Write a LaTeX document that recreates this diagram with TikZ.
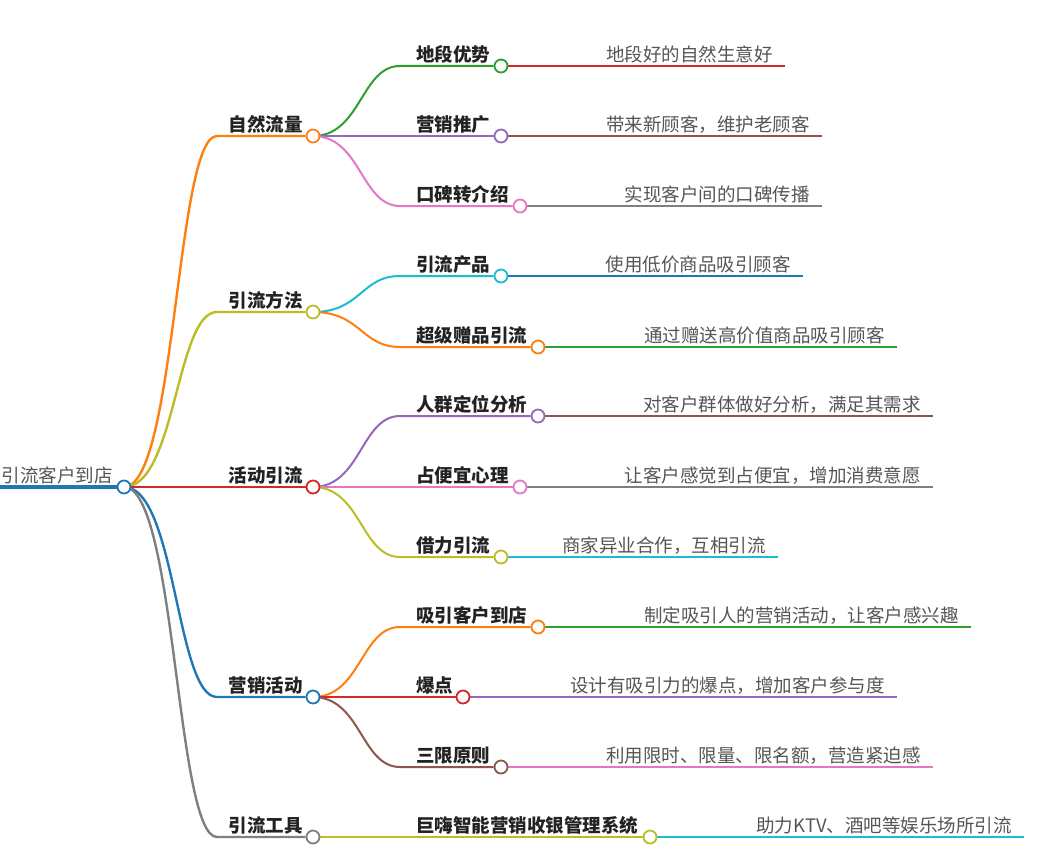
\documentclass[tikz,border=0pt]{standalone}
\usepackage{fontspec}
\newfontfamily\cjk{Noto Sans CJK SC}
\usetikzlibrary{backgrounds,positioning}
\definecolor{MapBlue}{HTML}{1F77B4}
\definecolor{MapOrange}{HTML}{FF7F0E}
\definecolor{MapGreen}{HTML}{2CA02C}
\definecolor{MapRed}{HTML}{D62728}
\definecolor{MapPurple}{HTML}{9467BD}
\definecolor{MapBrown}{HTML}{8C564B}
\definecolor{MapPink}{HTML}{E377C2}
\definecolor{MapGray}{HTML}{7F7F7F}
\definecolor{MapOlive}{HTML}{BCBD22}
\definecolor{MapCyan}{HTML}{17BECF}
\definecolor{LabelInk}{HTML}{222222}
\definecolor{LeafInk}{HTML}{555555}

\begin{document}
\begin{tikzpicture}[
  x=1pt,y=-1pt,
  dot/.style={circle,draw,fill=white,line width=1.8pt,minimum size=13pt,inner sep=0pt},
  topic/.style={font={\cjk\bfseries\fontsize{18.5}{22}\selectfont},text=LabelInk,inner sep=0pt},
  leaf/.style={font={\cjk\fontsize{18.5}{22}\selectfont},text=LeafInk,inner sep=0pt},
  trunk/.style={line width=2.4pt},
  twig/.style={line width=2pt}
]
\useasboundingbox (0,0) rectangle (1038,867);

% centre
\coordinate (start) at (0,487);
\node[dot,draw=MapBlue] (root) at (124,487) {};
\node[leaf,anchor=base east] (rootTxt) at (113,482) {引流客户到店};

% first level
\node[dot,draw=MapOrange] (nat) at (313,136) {};
\node[dot,draw=MapOlive] (way) at (313,312) {};
\node[dot,draw=MapRed] (act) at (313,487) {};
\node[dot,draw=MapBlue] (mkt) at (313,697) {};
\node[dot,draw=MapGray] (tool) at (313,837) {};
\node[topic,anchor=base east] (natTxt) at ([xshift=-10pt,yshift=5pt]nat.center) {自然流量};
\node[topic,anchor=base east] (wayTxt) at ([xshift=-10pt,yshift=5pt]way.center) {引流方法};
\node[topic,anchor=base east] (actTxt) at ([xshift=-10pt,yshift=5pt]act.center) {活动引流};
\node[topic,anchor=base east] (mktTxt) at ([xshift=-10pt,yshift=5pt]mkt.center) {营销活动};
\node[topic,anchor=base east] (toolTxt) at ([xshift=-10pt,yshift=5pt]tool.center) {引流工具};

% second level
\node[dot,draw=MapGreen] (loc) at (501,66) {};
\node[dot,draw=MapPurple] (promo) at (501,136) {};
\node[dot,draw=MapPink] (word) at (520,206) {};
\node[dot,draw=MapCyan] (prod) at (501,276) {};
\node[dot,draw=MapOrange] (gift) at (538,347) {};
\node[dot,draw=MapPurple] (crowd) at (538,416) {};
\node[dot,draw=MapPink] (cheap) at (520,487) {};
\node[dot,draw=MapOlive] (borrow) at (501,557) {};
\node[dot,draw=MapOrange] (lure) at (538,627) {};
\node[dot,draw=MapRed] (hot) at (463,697) {};
\node[dot,draw=MapBrown] (limit) at (501,767) {};
\node[dot,draw=MapOlive] (sys) at (650,837) {};
\node[topic,anchor=base west] (locTxt) at (416,61) {地段优势};
\node[topic,anchor=base west] (promoTxt) at (416,131) {营销推广};
\node[topic,anchor=base west] (wordTxt) at (416,201) {口碑转介绍};
\node[topic,anchor=base west] (prodTxt) at (416,271) {引流产品};
\node[topic,anchor=base west] (giftTxt) at (416,342) {超级赠品引流};
\node[topic,anchor=base west] (crowdTxt) at (416,411) {人群定位分析};
\node[topic,anchor=base west] (cheapTxt) at (416,482) {占便宜心理};
\node[topic,anchor=base west] (borrowTxt) at (416,552) {借力引流};
\node[topic,anchor=base west] (lureTxt) at (416,622) {吸引客户到店};
\node[topic,anchor=base west] (hotTxt) at (416,692) {爆点};
\node[topic,anchor=base west] (limitTxt) at (416,762) {三限原则};
\node[topic,anchor=base west] (sysTxt) at (416,832) {巨嗨智能营销收银管理系统};

% leaves
\coordinate (locEnd) at (785,66);
\coordinate (promoEnd) at (822,136);
\coordinate (wordEnd) at (822,206);
\coordinate (prodEnd) at (803,276);
\coordinate (giftEnd) at (897,347);
\coordinate (crowdEnd) at (933,416);
\coordinate (cheapEnd) at (933,487);
\coordinate (borrowEnd) at (778,557);
\coordinate (lureEnd) at (971,627);
\coordinate (hotEnd) at (897,697);
\coordinate (limitEnd) at (933,767);
\coordinate (sysEnd) at (1024,837);
\node[leaf,anchor=base east] at ([xshift=-12pt,yshift=5pt]locEnd) {地段好的自然生意好};
\node[leaf,anchor=base east] at ([xshift=-12pt,yshift=5pt]promoEnd) {带来新顾客，维护老顾客};
\node[leaf,anchor=base east] at ([xshift=-12pt,yshift=5pt]wordEnd) {实现客户间的口碑传播};
\node[leaf,anchor=base east] at ([xshift=-12pt,yshift=5pt]prodEnd) {使用低价商品吸引顾客};
\node[leaf,anchor=base east] at ([xshift=-12pt,yshift=5pt]giftEnd) {通过赠送高价值商品吸引顾客};
\node[leaf,anchor=base east] at ([xshift=-12pt,yshift=5pt]crowdEnd) {对客户群体做好分析，满足其需求};
\node[leaf,anchor=base east] at ([xshift=-12pt,yshift=5pt]cheapEnd) {让客户感觉到占便宜，增加消费意愿};
\node[leaf,anchor=base east] at ([xshift=-12pt,yshift=5pt]borrowEnd) {商家异业合作，互相引流};
\node[leaf,anchor=base east] at ([xshift=-12pt,yshift=5pt]lureEnd) {制定吸引人的营销活动，让客户感兴趣};
\node[leaf,anchor=base east] at ([xshift=-12pt,yshift=5pt]hotEnd) {设计有吸引力的爆点，增加客户参与度};
\node[leaf,anchor=base east] at ([xshift=-12pt,yshift=5pt]limitEnd) {利用限时、限量、限名额，营造紧迫感};
\node[leaf,anchor=base east] at ([xshift=-12pt,yshift=5pt]sysEnd) {助力KTV、酒吧等娱乐场所引流};

\begin{scope}[on background layer]
% branches from the centre
\draw[MapBlue,line width=3.4pt] (start) -- (root);
\draw[trunk,MapOrange] (root.center) .. controls +(52,0) and +(-41,0) .. ([xshift=-96pt]nat.center) -- (nat);
\draw[trunk,MapOlive] (root.center) .. controls +(52,0) and +(-41,0) .. ([xshift=-96pt]way.center) -- (way);
\draw[trunk,MapRed] (root) -- (act);
\draw[trunk,MapBlue] (root.center) .. controls +(52,0) and +(-41,0) .. ([xshift=-96pt]mkt.center) -- (mkt);
\draw[trunk,MapGray] (root.center) .. controls +(52,0) and +(-41,0) .. ([xshift=-96pt]tool.center) -- (tool);
% second level branches
\draw[twig,MapGreen] (nat.center) .. controls +(48,0) and +(-39,0) .. (400,0 |- loc) -- (loc);
\draw[twig,MapPurple] (nat) -- (promo);
\draw[twig,MapPink] (nat.center) .. controls +(48,0) and +(-39,0) .. (400,0 |- word) -- (word);
\draw[twig,MapCyan] (way.center) .. controls +(48,0) and +(-39,0) .. (400,0 |- prod) -- (prod);
\draw[twig,MapOrange] (way.center) .. controls +(48,0) and +(-39,0) .. (400,0 |- gift) -- (gift);
\draw[twig,MapPurple] (act.center) .. controls +(48,0) and +(-39,0) .. (400,0 |- crowd) -- (crowd);
\draw[twig,MapPink] (act) -- (cheap);
\draw[twig,MapOlive] (act.center) .. controls +(48,0) and +(-39,0) .. (400,0 |- borrow) -- (borrow);
\draw[twig,MapOrange] (mkt.center) .. controls +(48,0) and +(-39,0) .. (400,0 |- lure) -- (lure);
\draw[twig,MapRed] (mkt) -- (hot);
\draw[twig,MapBrown] (mkt.center) .. controls +(48,0) and +(-39,0) .. (400,0 |- limit) -- (limit);
\draw[twig,MapOlive] (tool) -- (sys);
% leaf lines
\draw[twig,MapRed] (loc) -- (locEnd);
\draw[twig,MapBrown] (promo) -- (promoEnd);
\draw[twig,MapGray] (word) -- (wordEnd);
\draw[twig,MapBlue] (prod) -- (prodEnd);
\draw[twig,MapGreen] (gift) -- (giftEnd);
\draw[twig,MapBrown] (crowd) -- (crowdEnd);
\draw[twig,MapGray] (cheap) -- (cheapEnd);
\draw[twig,MapCyan] (borrow) -- (borrowEnd);
\draw[twig,MapGreen] (lure) -- (lureEnd);
\draw[twig,MapPurple] (hot) -- (hotEnd);
\draw[twig,MapPink] (limit) -- (limitEnd);
\draw[twig,MapCyan] (sys) -- (sysEnd);
\end{scope}
\end{tikzpicture}
\end{document}
